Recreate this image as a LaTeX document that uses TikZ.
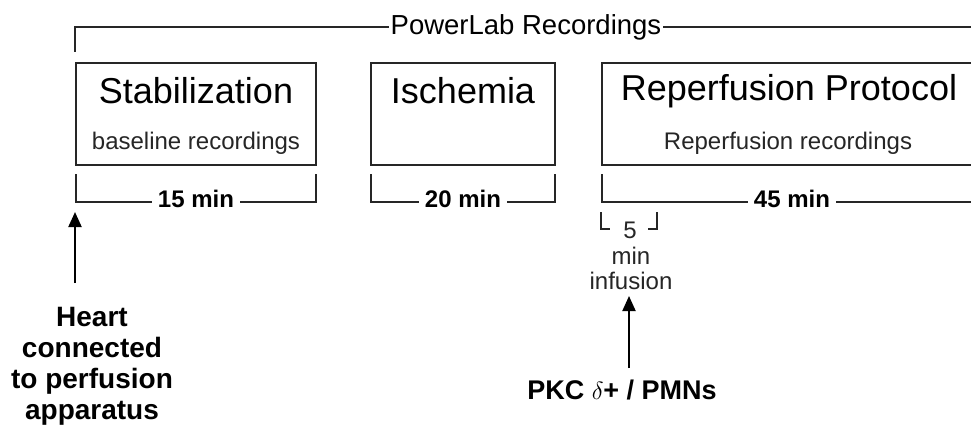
\documentclass[tikz,border=0pt]{standalone}
\usepackage{fontspec}
\setmainfont{Liberation Sans}
\usetikzlibrary{arrows.meta}
\begin{document}
\begin{tikzpicture}[x=1pt,y=-1pt,
  ln/.style={line width=1.4pt,draw=black!85},
  boxtitle/.style={font=\fontsize{36}{40}\selectfont,inner sep=0pt},
  boxsub/.style={font=\fontsize{24}{26}\selectfont,text=black!85,inner sep=0pt},
  dur/.style={font=\fontsize{24}{26}\selectfont\bfseries,inner xsep=6pt,inner ysep=0pt,anchor=base},
  lbl/.style={font=\fontsize{28}{31}\selectfont\bfseries,inner sep=0pt,anchor=base},
  arr/.style={line width=2pt,draw=black,-{Triangle[width=13pt,length=15pt]}}
]
\useasboundingbox (0,0) rectangle (971,432);
\fill[white] (0,0) rectangle (971,432);

% top bracket
\node[font=\fontsize{27.5}{30}\selectfont,inner xsep=2pt,inner ysep=0pt] (pl) at (526,27) {PowerLab Recordings};
\coordinate (plL) at (75,52);
\coordinate (plR) at (971,27);
\draw[ln] (pl.west) -| (plL);
\draw[ln] (pl.east) -- (plR);

% Stabilization
\node[ln,draw,minimum width=240,minimum height=102,inner sep=0pt] (stab) at (196,114) {};
\node[boxtitle] (stabT) at (196,91) {Stabilization};
\node[boxsub] (stabS) at (196,143) {baseline recordings};
\node[dur] (m15) at (196,207) {15 min};
\coordinate (a1) at (76,174);
\coordinate (a2) at (76,202);
\coordinate (a3) at (316,202);
\coordinate (a4) at (316,174);
\draw[ln] (a1) -- (a2) -- (a2 -| m15.west);
\draw[ln] (a3 -| m15.east) -- (a3) -- (a4);

% Ischemia
\node[ln,draw,minimum width=184,minimum height=102,inner sep=0pt] (isch) at (463,114) {};
\node[boxtitle] (ischT) at (463,91) {Ischemia};
\node[dur] (m20) at (463,207) {20 min};
\coordinate (b1) at (371,174);
\coordinate (b2) at (371,202);
\coordinate (b3) at (555,202);
\coordinate (b4) at (555,174);
\draw[ln] (b1) -- (b2) -- (b2 -| m20.west);
\draw[ln] (b3 -| m20.east) -- (b3) -- (b4);

% Reperfusion (box open to the right edge)
\coordinate (r1) at (971,63);
\coordinate (r2) at (602,165);
\coordinate (r3) at (971,165);
\draw[ln] (r1) -| (r2) -- (r3);
\node[boxtitle] (repT) at (789,91) {Reperfusion Protocol};
\node[boxsub] (repS) at (788,143) {Reperfusion recordings};
\node[dur] (m45) at (792,207) {45 min};
\coordinate (c1) at (602,174);
\coordinate (c2) at (602,202);
\coordinate (c3) at (971,202);
\draw[ln] (c1) -- (c2) -- (c2 -| m45.west);
\draw[ln] (m45.east |- c3) -- (c3);

% 5 min infusion bracket
\coordinate (d1) at (601,212);
\coordinate (d2) at (601,229);
\coordinate (d3) at (610,229);
\coordinate (d4) at (657,212);
\coordinate (d5) at (657,229);
\coordinate (d6) at (648,229);
\draw[line width=1.2pt,draw=black!85] (d1) -- (d2) -- (d3);
\draw[line width=1.2pt,draw=black!85] (d4) -- (d5) -- (d6);
\node[boxsub] (five) at (630,230) {5};
\node[boxsub,align=center,font=\fontsize{24}{25}\selectfont] (inf) at (631,268) {min\\infusion};

% PKC arrow
\node[lbl,font=\fontsize{27}{30}\selectfont\bfseries] (pkc) at (622,399) {PKC $\delta$+ / PMNs};
\coordinate (pt) at (629,368);
\coordinate (ph) at (629,296);
\draw[arr] (pt) -- (ph);

% Heart arrow
\node[lbl] (h1) at (92,326) {Heart};
\node[lbl] (h2) at (92,357) {connected};
\node[lbl] (h3) at (92,388) {to perfusion};
\node[lbl] (h4) at (92,419) {apparatus};
\coordinate (ht) at (75,283);
\coordinate (hh) at (75,212);
\draw[arr] (ht) -- (hh);
\end{tikzpicture}
\end{document}
